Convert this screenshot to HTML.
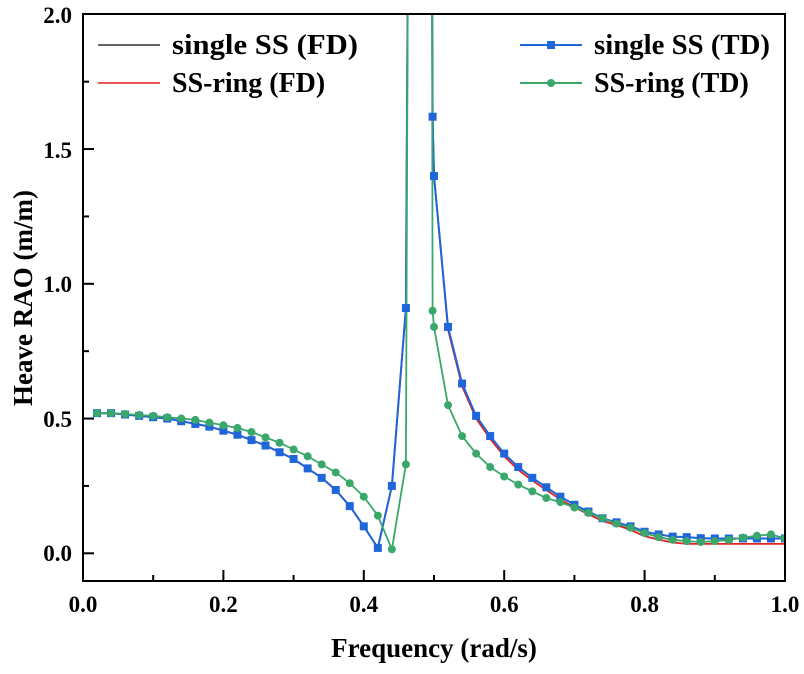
<!DOCTYPE html>
<html><head><meta charset="utf-8"><style>
html,body{margin:0;padding:0;background:#fff;}
svg text{font-family:"Liberation Serif",serif;font-weight:bold;fill:#000;}
</style></head><body>
<svg id="s" width="804" height="669" viewBox="0 0 804 669" xmlns="http://www.w3.org/2000/svg">
<defs><clipPath id="c"><rect x="83" y="14" width="702" height="567"/></clipPath></defs>
<g id="plot" clip-path="url(#c)"></g>
<rect x="83" y="14" width="702" height="567" fill="none" stroke="#000" stroke-width="2"/>
<g id="ticks" stroke="#000" stroke-width="2"></g>
<g font-size="23" text-anchor="middle">
<text x="83" y="612">0.0</text><text x="223.4" y="612">0.2</text><text x="363.8" y="612">0.4</text><text x="504.2" y="612">0.6</text><text x="644.6" y="612">0.8</text><text x="785" y="612">1.0</text>
</g>
<g font-size="23" text-anchor="end">
<text x="72" y="561">0.0</text><text x="72" y="427">0.5</text><text x="72" y="292">1.0</text><text x="72" y="158">1.5</text><text x="72" y="23">2.0</text>
</g>
<text x="434" y="657" font-size="27" text-anchor="middle">Frequency (rad/s)</text>
<text transform="translate(32,298) rotate(-90)" font-size="27" text-anchor="middle">Heave RAO (m/m)</text>
<g font-size="28">
<line x1="98" y1="45" x2="160" y2="45" stroke="#333" stroke-width="1.5"/><text x="172" y="54" textLength="186" lengthAdjust="spacingAndGlyphs">single SS (FD)</text>
<line x1="98" y1="83" x2="160" y2="83" stroke="#e32222" stroke-width="1.5"/><text x="172" y="92">SS-ring (FD)</text>
<line x1="520" y1="45" x2="582" y2="45" stroke="#1f66d8" stroke-width="2"/><rect x="547" y="41" width="8" height="8" fill="#1f66d8"/><text x="594" y="54" textLength="176" lengthAdjust="spacingAndGlyphs">single SS (TD)</text>
<line x1="520" y1="83" x2="582" y2="83" stroke="#3aa86a" stroke-width="2"/><circle cx="551" cy="83" r="4" fill="#3aa86a"/><text x="594" y="92">SS-ring (TD)</text>
</g>
</svg>
<script>
var X=function(v){return 83+v*702},Y=function(v){return 553.3-v*269.5};
var ns="http://www.w3.org/2000/svg";
var tk=document.getElementById('ticks'),pl=document.getElementById('plot');
function ln(g,a,b,c,d){var l=document.createElementNS(ns,'line');l.setAttribute('x1',a);l.setAttribute('y1',b);l.setAttribute('x2',c);l.setAttribute('y2',d);g.appendChild(l);}
for(var i=1;i<10;i++){var x=X(i/10);ln(tk,x,581,x,i%2?575:570);}
for(var i=0;i<8;i++){var y=Y(i*0.25);if(y<16)continue;ln(tk,83,y,i%2?89:94,y);}
var blue=[[.02,.52],[.04,.52],[.06,.515],[.08,.51],[.1,.505],[.12,.5],[.14,.49],[.16,.48],[.18,.47],[.2,.455],[.22,.44],[.24,.42],[.26,.4],[.28,.375],[.3,.35],[.32,.315],[.34,.28],[.36,.235],[.38,.175],[.4,.1],[.42,.02],[.44,.25],[.46,.91],[.463,2.3],[.497,2.3],[.498,1.62],[.5,1.4],[.52,.84],[.54,.63],[.56,.51],[.58,.435],[.6,.37],[.62,.32],[.64,.28],[.66,.245],[.68,.21],[.7,.18],[.72,.155],[.74,.13],[.76,.115],[.78,.1],[.8,.08],[.82,.07],[.84,.062],[.86,.06],[.88,.056],[.9,.055],[.92,.055],[.94,.055],[.96,.055],[.98,.055],[1,.055]];
var green=[[.02,.52],[.04,.52],[.06,.517],[.08,.513],[.1,.51],[.12,.505],[.14,.5],[.16,.495],[.18,.485],[.2,.475],[.22,.465],[.24,.45],[.26,.43],[.28,.41],[.3,.385],[.32,.36],[.34,.33],[.36,.3],[.38,.26],[.4,.21],[.42,.14],[.44,.015],[.46,.33],[.463,2.3],[.497,2.3],[.498,.9],[.5,.84],[.52,.55],[.54,.435],[.56,.37],[.58,.32],[.6,.285],[.62,.255],[.64,.23],[.66,.205],[.68,.19],[.7,.17],[.72,.15],[.74,.13],[.76,.11],[.78,.095],[.8,.075],[.82,.06],[.84,.05],[.86,.045],[.88,.042],[.9,.045],[.92,.05],[.94,.058],[.96,.065],[.98,.07],[1,.055]];
var red=blue.map(function(p){var v=p[1];if(p[0]>=.52)v=v-0.01;if(p[0]>=.78)v=Math.max(.035,v-(p[0]-.76)*0.15);return [p[0],v];});
function path(d,col,w){var p=document.createElementNS(ns,'path');p.setAttribute('d','M'+d.map(function(q){return X(q[0]).toFixed(1)+','+Y(q[1]).toFixed(1)}).join('L'));p.setAttribute('fill','none');p.setAttribute('stroke',col);p.setAttribute('stroke-width',w);pl.appendChild(p);}
path(blue,'#333',1.5);path(red,'#e32222',1.8);path(blue,'#1f66d8',2);path(green,'#3aa86a',1.8);
blue.forEach(function(q){if(q[1]>2)return;var r=document.createElementNS(ns,'rect');r.setAttribute('x',X(q[0])-4);r.setAttribute('y',Y(q[1])-4);r.setAttribute('width',8);r.setAttribute('height',8);r.setAttribute('fill','#1f66d8');pl.appendChild(r);});
green.forEach(function(q){if(q[1]>2)return;var c=document.createElementNS(ns,'circle');c.setAttribute('cx',X(q[0]));c.setAttribute('cy',Y(q[1]));c.setAttribute('r',4);c.setAttribute('fill','#3aa86a');pl.appendChild(c);});
</script>
</body></html>
